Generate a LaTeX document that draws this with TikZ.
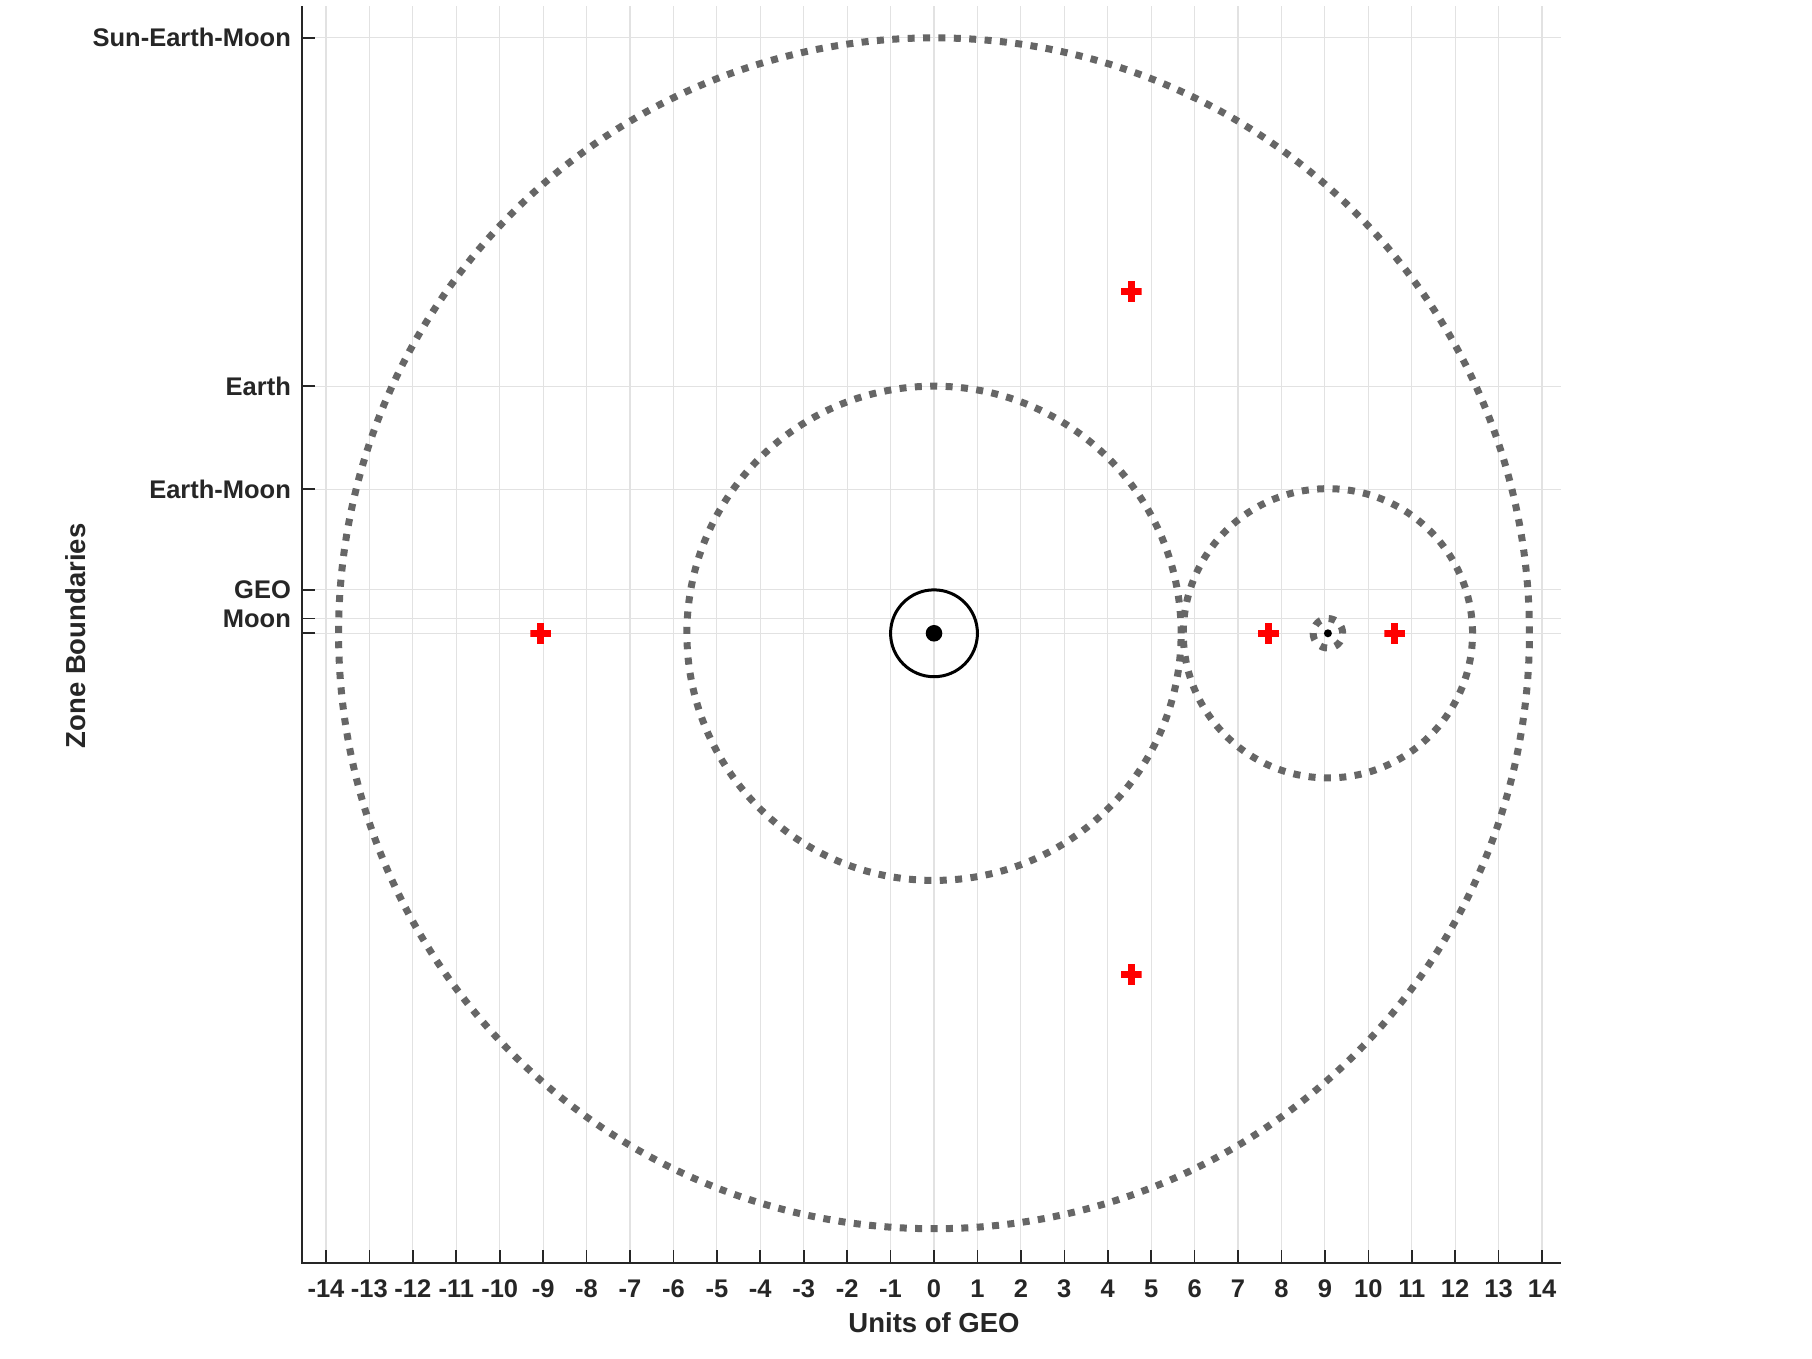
\documentclass[tikz,border=0pt]{standalone}
\usepackage{fontspec}
\setmainfont{Liberation Sans}
\definecolor{axc}{RGB}{38,38,38}
\definecolor{gridc}{RGB}{226,226,226}
\definecolor{dotc}{RGB}{102,102,102}
\tikzset{
  gridline/.style={gridc, line width=1.2pt},
  axisline/.style={axc, line width=1.6pt},
  zonecircle/.style={dotc, line width=7pt, line cap=butt, dash pattern=on 7pt off 8.4pt},
  ticklab/.style={text=axc, font=\bfseries\fontsize{25.5}{30}\selectfont, inner sep=0pt},
  axlab/.style={text=axc, font=\bfseries\fontsize{27.5}{32}\selectfont, inner sep=0pt},
  lpoint/.style={inner sep=0pt, minimum size=21pt, path picture={
      \fill[red] ([xshift=-10.5pt,yshift=-3.5pt]path picture bounding box.center) rectangle ++(21pt,7pt);
      \fill[red] ([xshift=-3.5pt,yshift=-10.5pt]path picture bounding box.center) rectangle ++(7pt,21pt);}},
}
\begin{document}
\begin{tikzpicture}[x=1pt,y=1pt]
\useasboundingbox (0,0) rectangle (1812,1358);
\fill[white] (0,0) rectangle (1812,1358);
\begin{scope}[shift={(934,724.7)}, x=43.43pt, y=43.43pt]
  % grid
  \foreach \i in {-14,...,14} \draw[gridline] (\i,-14.5) -- (\i,14.44);
  \foreach \v in {0,0.34,1,3.32,5.69,13.71} \draw[gridline] (-14.55,\v) -- (14.44,\v);
  % axes
  \coordinate (ytop) at (-14.55,14.44);
  \coordinate (orig) at (-14.55,-14.5);
  \coordinate (xend) at (14.44,-14.5);
  \draw[axisline] (ytop) -- (orig) -- (xend);
  % x ticks
  \foreach \i in {-14,...,14} {
    \draw[axisline] (\i,-14.5) -- ++(0,13pt);
    \node[ticklab] (xt\i) at ([yshift=-26pt]\i,-14.5) {\i};
  }
  % y ticks
  \foreach \v/\n/\t in {0/y0/{}, 0.34/ymoon/Moon, 1/ygeo/GEO, 3.32/yem/Earth-Moon, 5.69/yearth/Earth, 13.71/ysem/Sun-Earth-Moon} {
    \draw[axisline] (-14.55,\v) -- ++(13pt,0);
    \node[ticklab, anchor=east] (\n) at ([xshift=-11pt]-14.55,\v) {\t};
  }
  % zone circles
  \draw[zonecircle] (0,0) circle (13.71);
  \draw[zonecircle] (0,0) circle (5.69);
  \draw[zonecircle] (9.07,0) circle (3.33);
  \draw[zonecircle] (9.07,0) circle (0.34);
  % GEO ring and bodies
  \draw[black, line width=3pt] (0,0) circle (1);
  \node[circle, fill=black, inner sep=0pt, minimum size=16.6pt] (earth) at (0,0) {};
  \node[circle, fill=black, inner sep=0pt, minimum size=8pt] (moon) at (9.07,0) {};
  % Lagrange points
  \node[lpoint] (L1) at (7.70,0) {};
  \node[lpoint] (L2) at (10.61,0) {};
  \node[lpoint] (L3) at (-9.05,0) {};
  \node[lpoint] (L4) at (4.54,7.87) {};
  \node[lpoint] (L5) at (4.54,-7.86) {};
\end{scope}
\node[axlab] (xlabel) at (934,35) {Units of GEO};
\node[axlab, rotate=90] (ylabel) at (76,722) {Zone Boundaries};
\end{tikzpicture}
\end{document}
